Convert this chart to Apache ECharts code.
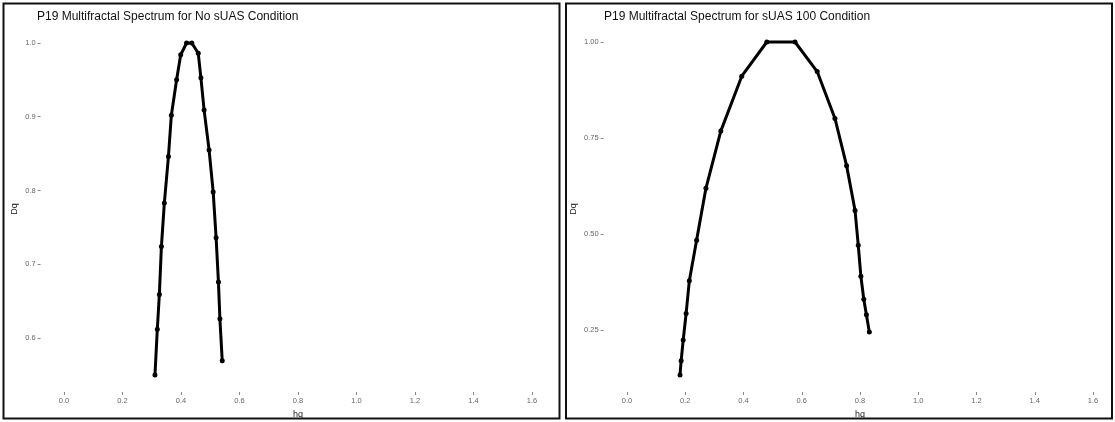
<!DOCTYPE html>
<html>
<head>
<meta charset="utf-8">
<script src="https://cdn.jsdelivr.net/npm/echarts@6/dist/echarts.min.js"></script>
<style>
  html, body { margin: 0; padding: 0; background: #fff; }
  #chart { width: 1115px; height: 422px; }
</style>
</head>
<body>
<div id="chart"></div>
<script>
// Multifractal spectrum, participant P19: No sUAS condition
const hqNoSuas = [0.311, 0.319, 0.326, 0.333, 0.343, 0.357, 0.367, 0.385, 0.399, 0.419, 0.437,
                  0.459, 0.468, 0.479, 0.496, 0.510, 0.520, 0.528, 0.533, 0.541];
const dqNoSuas = [0.550, 0.612, 0.659, 0.724, 0.783, 0.846, 0.902, 0.950, 0.984, 1.000, 1.000,
                  0.986, 0.953, 0.909, 0.855, 0.798, 0.736, 0.676, 0.626, 0.569];

// Multifractal spectrum, participant P19: sUAS 100 condition
const hqSuas100 = [0.182, 0.186, 0.193, 0.203, 0.214, 0.239, 0.271, 0.322, 0.394, 0.480, 0.577,
                   0.653, 0.714, 0.754, 0.783, 0.794, 0.803, 0.813, 0.822, 0.832];
const dqSuas100 = [0.133, 0.170, 0.224, 0.293, 0.378, 0.484, 0.619, 0.768, 0.911, 1.000, 1.000,
                   0.923, 0.801, 0.678, 0.561, 0.471, 0.390, 0.330, 0.290, 0.245];

// Tick labels
const xTicks = [0, 0.2, 0.4, 0.6, 0.8, 1.0, 1.2, 1.4, 1.6];
const yTicksNoSuas = [0.6, 0.7, 0.8, 0.9, 1.0];
const yTicksSuas100 = [0.25, 0.5, 0.75, 1.0];

const titles = ['P19 Multifractal Spectrum for No sUAS Condition',
                'P19 Multifractal Spectrum for sUAS 100 Condition'];

const FONT = 'Liberation Sans, Arial, sans-serif';
const pairs = (xs, ys) => xs.map((x, i) => [x, ys[i]]);

function xAxisFor(gridIndex) {
  return {
    type: 'value', gridIndex, min: -0.08, max: 1.68,
    name: 'hq', nameLocation: 'middle', nameGap: 14,
    nameTextStyle: { color: '#222', fontSize: 9, fontFamily: FONT },
    axisLine: { show: false, onZero: false },
    splitLine: { show: false },
    axisTick: { show: true, customValues: xTicks, length: 3, lineStyle: { color: '#888', width: 1 } },
    axisLabel: { customValues: xTicks, margin: 5, color: '#666', fontSize: 7.5, fontFamily: FONT,
                 formatter: v => v.toFixed(1) }
  };
}

function yAxisFor(gridIndex, min, max, ticks, digits, gap) {
  return {
    type: 'value', gridIndex, min, max,
    name: 'Dq', nameLocation: 'middle', nameGap: gap, nameRotate: 90,
    nameTextStyle: { color: '#222', fontSize: 9, fontFamily: FONT },
    axisLine: { show: false, onZero: false },
    splitLine: { show: false },
    axisTick: { show: true, customValues: ticks, length: 3, lineStyle: { color: '#888', width: 1 } },
    axisLabel: { customValues: ticks, margin: 5, color: '#666', fontSize: 7.5, fontFamily: FONT,
                 formatter: v => v.toFixed(digits) }
  };
}

function spectrum(idx, xs, ys) {
  return {
    type: 'line', xAxisIndex: idx, yAxisIndex: idx,
    data: pairs(xs, ys),
    symbol: 'circle', symbolSize: 5, showSymbol: true,
    lineStyle: { color: '#000', width: 3 },
    itemStyle: { color: '#000' },
    animation: false, silent: true
  };
}

const titleStyle = { fontSize: 12, fontWeight: 'normal', color: '#111', fontFamily: FONT };

const chart = echarts.init(document.getElementById('chart'), null, { renderer: 'canvas' });
chart.setOption({
  backgroundColor: '#fff',
  animation: false,
  title: [
    { text: titles[0], left: 37, top: 11, padding: 0, textStyle: titleStyle },
    { text: titles[1], left: 604, top: 11, padding: 0, textStyle: titleStyle }
  ],
  grid: [
    { left: 40.6, top: 26, width: 514.8, height: 366, outerBoundsMode: 'none', containLabel: false },
    { left: 603.7, top: 26, width: 512.6, height: 366, outerBoundsMode: 'none', containLabel: false }
  ],
  xAxis: [xAxisFor(0), xAxisFor(1)],
  yAxis: [
    yAxisFor(0, 0.5268, 1.023, yTicksNoSuas, 1, 22),
    yAxisFor(1, 0.0885, 1.0417, yTicksSuas100, 2, 26)
  ],
  series: [spectrum(0, hqNoSuas, dqNoSuas), spectrum(1, hqSuas100, dqSuas100)],
  graphic: [
    { type: 'rect', shape: { x: 3.5, y: 3.5, width: 556, height: 415 },
      style: { fill: 'none', stroke: '#111', lineWidth: 2 }, silent: true },
    { type: 'rect', shape: { x: 566, y: 3.5, width: 546, height: 415 },
      style: { fill: 'none', stroke: '#111', lineWidth: 2 }, silent: true }
  ]
});
</script>
</body>
</html>
